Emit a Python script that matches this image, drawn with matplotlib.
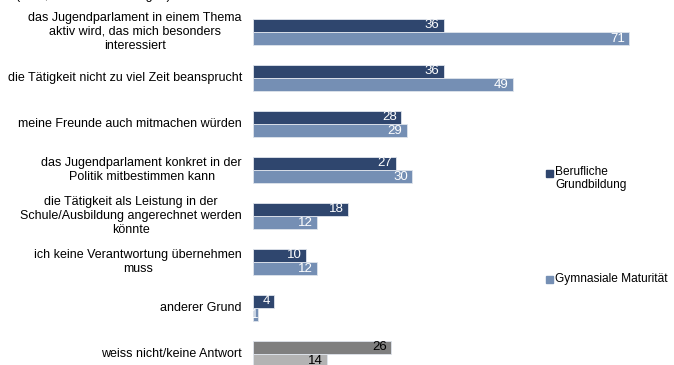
import matplotlib.pyplot as plt
import numpy as np
from matplotlib.patches import Rectangle

plt.rcParams['font.family'] = ['Liberation Sans', 'DejaVu Sans']
plt.rcParams['font.size'] = 9

categories = [
    "das Jugendparlament in einem Thema\naktiv wird, das mich besonders\ninteressiert",
    "die Tätigkeit nicht zu viel Zeit beansprucht",
    "meine Freunde auch mitmachen würden",
    "das Jugendparlament konkret in der\nPolitik mitbestimmen kann",
    "die Tätigkeit als Leistung in der\nSchule/Ausbildung angerechnet werden\nkönnte",
    "ich keine Verantwortung übernehmen\nmuss",
    "anderer Grund",
    "weiss nicht/keine Antwort",
]
berufliche = [36, 36, 28, 27, 18, 10, 4, 26]
gymnasiale = [71, 49, 29, 30, 12, 12, 1, 14]
series_names = ["Berufliche\nGrundbildung", "Gymnasiale Maturität"]

dark_blue = '#2f466e'
light_blue = '#758fb4'
dark_grey = '#7f7f7f'
light_grey = '#b3b3b3'

W, H = 674, 365
PX_PER_UNIT = 5.3
fig = plt.figure(figsize=(W / 100, H / 100), dpi=100)
ax = fig.add_axes([253 / W, 0, PX_PER_UNIT * 75 / W, 1])
ax.set_xlim(0, 75)
ax.set_ylim(7 + 11 / 46, -32 / 46)
ax.axis('off')

y = np.arange(len(categories))
h = 13 / 46
n = len(categories)
c1 = [dark_blue] * (n - 1) + [dark_grey]
c2 = [light_blue] * (n - 1) + [light_grey]
t1 = ['white'] * (n - 1) + ['black']
t2 = ['white'] * (n - 1) + ['black']

b1 = ax.barh(y - h / 2, berufliche, height=h, color=c1, edgecolor='#dfe4ec', linewidth=0.6)
b2 = ax.barh(y + h / 2, gymnasiale, height=h, color=c2, edgecolor='#dfe4ec', linewidth=0.6)

for bars, vals, tc in [(b1, berufliche, t1), (b2, gymnasiale, t2)]:
    for bar, v, c in zip(bars, vals, tc):
        # very short bars get their label pushed against the end
        pad = -3 if v * PX_PER_UNIT > 15 else 0
        ax.annotate(str(v), (v, bar.get_y() + bar.get_height() / 2),
                    xytext=(pad, 0), textcoords='offset points',
                    ha='right', va='center', color=c, fontsize=9.5,
                    annotation_clip=False)

for yi, lab in zip(y, categories):
    ax.annotate(lab, (0, yi), xytext=(-8, 0), textcoords='offset points',
                ha='right', va='center', multialignment='center', fontsize=9,
                annotation_clip=False)

# legend entries spread out on the right
fig.patches.append(Rectangle((546 / W, 1 - 177 / H), 7 / W, 7 / H,
                             transform=fig.transFigure, color=dark_blue))
fig.text(555 / W, 1 - 166 / H, series_names[0], ha='left', va='top', fontsize=8.6,
         linespacing=1.15)
fig.patches.append(Rectangle((546 / W, 1 - 283 / H), 7 / W, 7 / H,
                             transform=fig.transFigure, color=light_blue))
fig.text(555 / W, 1 - 279 / H, series_names[1], ha='left', va='center', fontsize=8.6)

fig.text(16 / W, 1 + 0.5 / H, "(in %, Mehrfachnennungen)", ha='left', va='baseline', fontsize=9)

fig.savefig('out.png', dpi=100)
